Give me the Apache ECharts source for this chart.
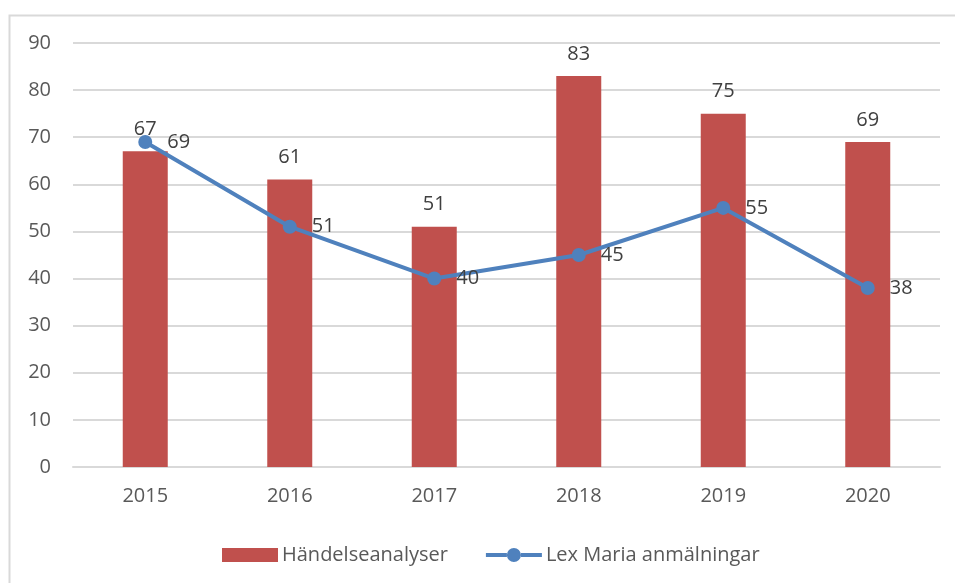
<!DOCTYPE html>
<html>
<head>
<meta charset="utf-8">
<script src="https://cdn.jsdelivr.net/npm/echarts@6/dist/echarts.min.js"></script>
<style>
  html, body { margin: 0; padding: 0; background: #fff; }
  #myChart { width: 955px; height: 583px; }
</style>
</head>
<body>
<div id="myChart"></div>
<script>
    // kategorier och värden
    var years = ['2015', '2016', '2017', '2018', '2019', '2020'];
    var handelseanalyser = [67, 61, 51, 83, 75, 69];
    var lexMaria = [69, 51, 40, 45, 55, 38];

    const textColor = '#595959';
    const font = 'Open Sans';
    // linje + punkt som legendikon
    const lineIcon = 'path://M0 5L21 5L21 9L0 9Z M35 5L56 5L56 9L35 9Z M21 7A7 7 0 1 1 35 7A7 7 0 1 1 21 7Z';

    let myChart = echarts.init(document.getElementById('myChart'));
    myChart.setOption({
        animation: false,
        color: ['#C0504D', '#4F81BD'],
        graphic: [{
            type: 'rect',
            shape: { x: 9.5, y: 15.5, width: 960, height: 600 },
            style: { fill: 'none', stroke: '#d9d9d9', lineWidth: 2 },
            silent: true
        }],
        legend: {
            left: 217,
            top: 540,
            itemWidth: 56,
            itemHeight: 14,
            itemGap: 38,
            textStyle: { color: textColor, fontSize: 20, fontFamily: font, padding: [0, 0, 0, -1] },
            data: [
                { name: 'Händelseanalyser', icon: 'rect' },
                { name: 'Lex Maria anmälningar', icon: lineIcon }
            ]
        },
        grid: {
            left: 73,
            right: 15,
            top: 43,
            bottom: 116
        },
        xAxis: {
            type: 'category',
            data: years,
            axisLine: { show: true, lineStyle: { color: '#d9d9d9', width: 2 } },
            axisTick: { show: false },
            axisLabel: { color: textColor, fontSize: 20, fontFamily: font, margin: 19 }
        },
        yAxis: {
            type: 'value',
            min: 0,
            max: 90,
            interval: 10,
            axisLine: { show: false },
            axisTick: { show: false },
            axisLabel: { color: textColor, fontSize: 20, fontFamily: font, margin: 22 },
            splitLine: { lineStyle: { color: '#d9d9d9', width: 2 } }
        },
        series: [
            {
                name: 'Händelseanalyser',
                type: 'bar',
                barWidth: 45,
                data: handelseanalyser,
                label: {
                    show: true,
                    position: 'top',
                    distance: 12,
                    color: '#404040',
                    fontSize: 20,
                    fontFamily: font
                }
            },
            {
                name: 'Lex Maria anmälningar',
                type: 'line',
                data: lexMaria,
                symbol: 'circle',
                symbolSize: 14,
                lineStyle: { width: 4 },
                label: {
                    show: true,
                    position: 'right',
                    distance: 15,
                    color: '#404040',
                    fontSize: 20,
                    fontFamily: font
                }
            }
        ]
    });
</script>
</body>
</html>
